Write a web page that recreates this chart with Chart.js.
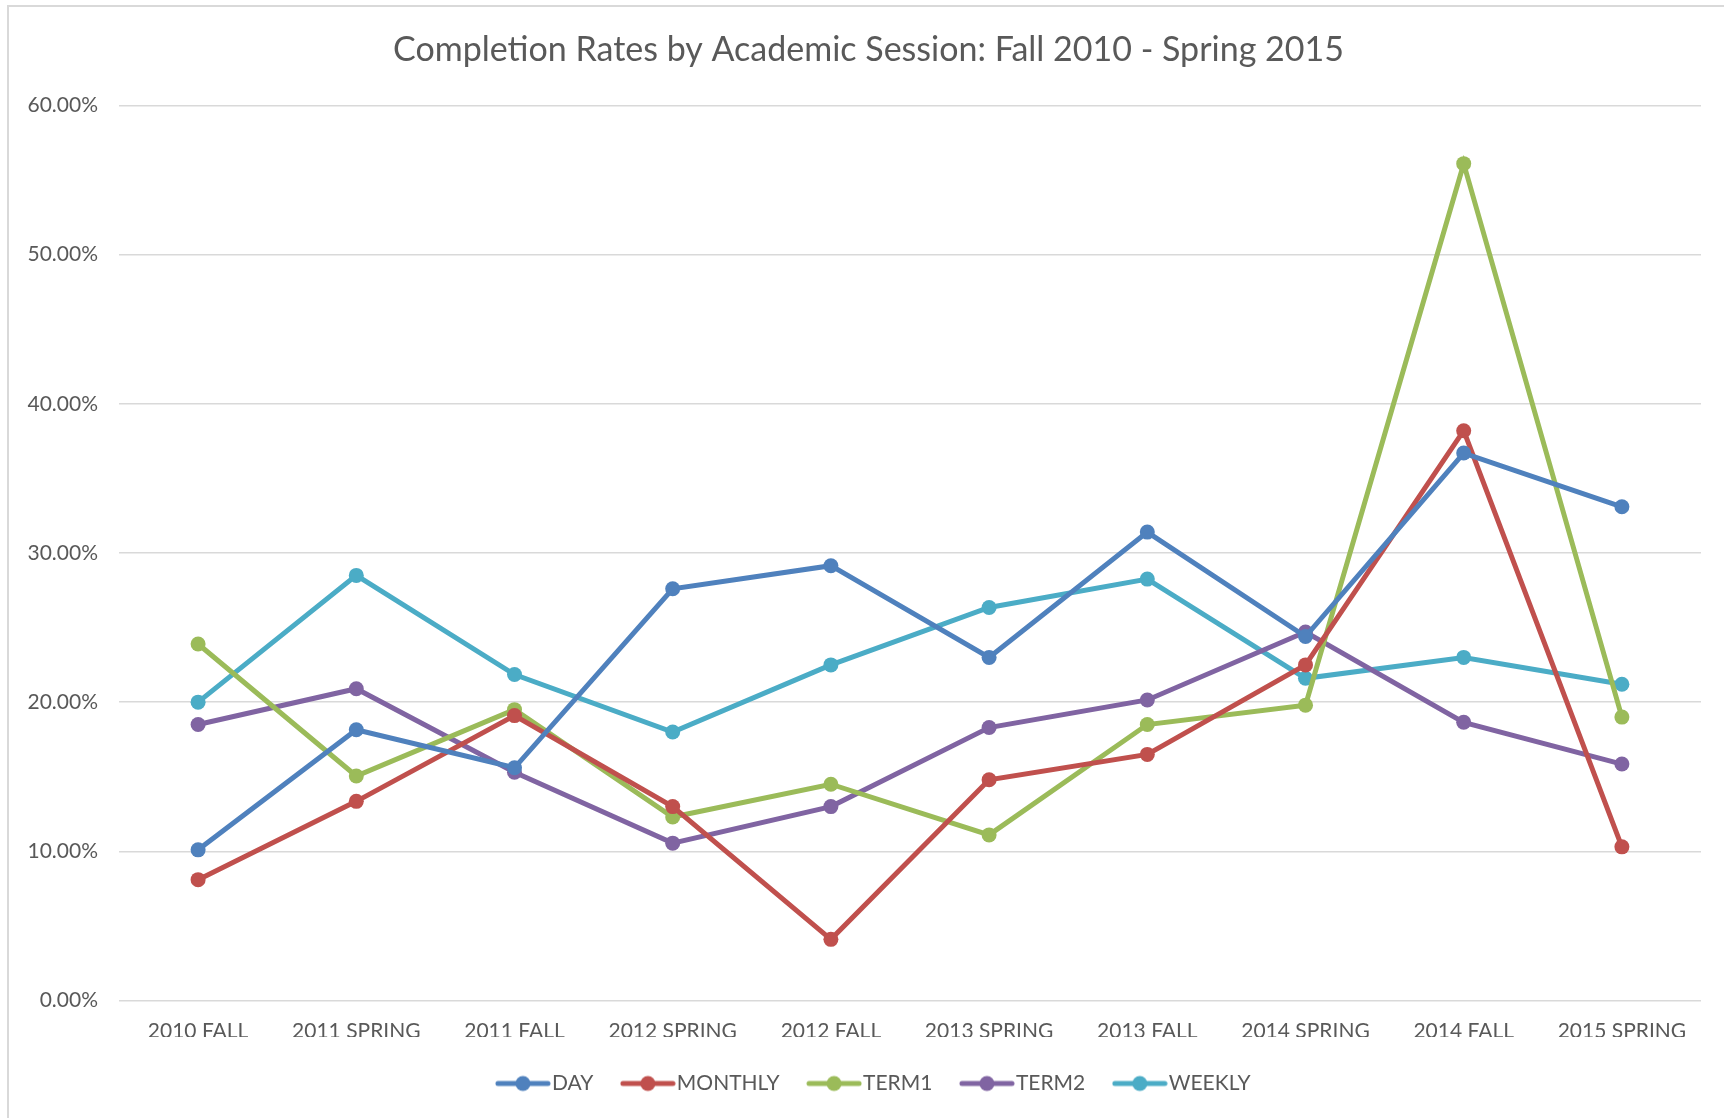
<!DOCTYPE html>
<html>
<head>
<meta charset="utf-8">
<script src="https://cdn.jsdelivr.net/npm/chart.js@4/dist/chart.umd.min.js"></script>
<style>
  html, body { margin: 0; padding: 0; background: #ffffff; }
  #wrap { position: relative; width: 1724px; height: 1118px; overflow: hidden; }
  #frame { position: absolute; left: 7px; top: 5px; width: 1760px; height: 1160px; border: 2px solid #D9D9D9; box-sizing: border-box; }
  #c { position: absolute; left: 0; top: 0; }
</style>
</head>
<body>
<div id="wrap">
  <div id="frame"></div>
  <canvas id="c" width="1724" height="1118"></canvas>
</div>
<script>
const categories = ["2010 FALL", "2011 SPRING", "2011 FALL", "2012 SPRING", "2012 FALL", "2013 SPRING", "2013 FALL", "2014 SPRING", "2014 FALL", "2015 SPRING"];
const seriesNames = ["DAY", "MONTHLY", "TERM1", "TERM2", "WEEKLY"];
const dayValues     = [10.1, 18.15, 15.6, 27.6, 29.15, 23.0, 31.4, 24.4, 36.7, 33.1];
const monthlyValues = [8.1, 13.35, 19.1, 13.0, 4.1, 14.8, 16.5, 22.5, 38.2, 10.3];
const term1Values   = [23.9, 15.05, 19.5, 12.3, 14.5, 11.1, 18.5, 19.8, 56.1, 19.0];
const term2Values   = [18.5, 20.9, 15.3, 10.55, 13.0, 18.3, 20.15, 24.7, 18.65, 15.85];
const weeklyValues  = [20.0, 28.5, 21.85, 18.0, 22.5, 26.35, 28.25, 21.6, 23.0, 21.2];
const yTicks = [0, 10, 20, 30, 40, 50, 60];
const titleText = "Completion Rates by Academic Session: Fall 2010 - Spring 2015";

const colors = ["#4F81BD", "#C0504D", "#9BBB59", "#8064A2", "#4BACC6"];
const allValues = [dayValues, monthlyValues, term1Values, term2Values, weeklyValues];
const FONT = "Lato, 'Open Sans', sans-serif";
const TEXT = "#595959";

function legendMarker(color) {
  const cv = document.createElement('canvas');
  cv.width = 56; cv.height = 18;
  const g = cv.getContext('2d');
  g.strokeStyle = color; g.lineWidth = 5; g.lineCap = 'round';
  g.beginPath(); g.moveTo(3, 9); g.lineTo(53, 9); g.stroke();
  g.fillStyle = color;
  g.beginPath(); g.arc(28, 9, 7.5, 0, Math.PI * 2); g.fill();
  return cv;
}

const datasets = seriesNames.map((name, i) => ({
  label: name,
  data: allValues[i],
  borderColor: colors[i],
  backgroundColor: colors[i],
  pointBackgroundColor: colors[i],
  pointBorderColor: colors[i],
  borderWidth: 5,
  pointRadius: 7.5,
  pointBorderWidth: 0,
  pointStyle: 'circle',
  tension: 0,
  fill: false,
  legendMarker: legendMarker(colors[i])
}));

const shiftPlugin = {
  id: 'shiftBoxes',
  afterLayout(chart) {
    if (chart.legend) { chart.legend.left += 22; chart.legend.right += 22; }
    if (chart.titleBlock) { chart.titleBlock.left += 13; chart.titleBlock.right += 13; }
  }
};

new Chart(document.getElementById('c'), {
  type: 'line',
  data: { labels: categories, datasets: datasets },
  plugins: [shiftPlugin],
  options: {
    responsive: false,
    animation: false,
    devicePixelRatio: 1,
    layout: { padding: { left: 10, right: 23, top: 0, bottom: 14 } },
    plugins: {
      title: {
        display: true,
        text: titleText,
        color: TEXT,
        font: { family: FONT, size: 34, weight: 'normal', lineHeight: 1.2 },
        padding: { top: 29.6, bottom: 35.1 }
      },
      legend: {
        position: 'bottom',
        labels: {
          color: TEXT,
          font: { family: FONT, size: 21 },
          usePointStyle: true,
          pointStyleWidth: 37,
          padding: 36,
          generateLabels: (chart) => chart.data.datasets.map((ds, i) => ({
            text: ds.label,
            fillStyle: ds.borderColor,
            strokeStyle: ds.borderColor,
            fontColor: TEXT,
            lineWidth: 0,
            pointStyle: ds.legendMarker,
            datasetIndex: i,
            hidden: false
          }))
        }
      },
      tooltip: { enabled: false }
    },
    scales: {
      x: {
        offset: true,
        grid: { display: false, drawTicks: false },
        border: { display: false },
        ticks: {
          color: TEXT,
          font: { family: FONT, size: 21 },
          padding: 18,
          maxRotation: 0,
          autoSkip: false
        },
        afterFit: (s) => { s.height = 36.5; }
      },
      y: {
        min: 0,
        max: 60,
        afterBuildTicks: (s) => { s.ticks = yTicks.map(v => ({ value: v })); },
        grid: { color: '#D9D9D9', lineWidth: 1.6, drawTicks: false },
        border: { display: false },
        ticks: {
          color: TEXT,
          font: { family: FONT, size: 21 },
          padding: 21,
          callback: (v) => Number(v).toFixed(2) + '%'
        },
        afterFit: (s) => { s.width = 109; }
      }
    }
  }
});
</script>
</body>
</html>
